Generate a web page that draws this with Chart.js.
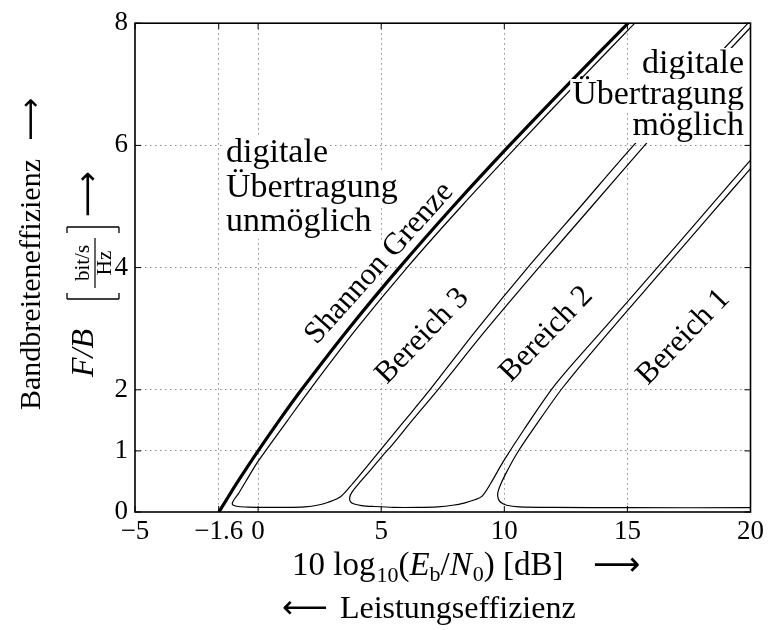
<!DOCTYPE html>
<html>
<head>
<meta charset="utf-8">
<script src="https://cdn.jsdelivr.net/npm/chart.js@4.4.1/dist/chart.umd.min.js"></script>
<style>
  html, body { margin: 0; padding: 0; background: #fff; }
  #wrap { width: 768px; height: 630px; }
</style>
</head>
<body>
<div id="wrap"><canvas id="grafik" width="768" height="630"></canvas></div>
<script>
// Achsen
const xTicks = [-5, -1.6, 0, 5, 10, 15, 20];
const yTicks = [0, 1, 2, 4, 6, 8];

// Shannon Grenze (dick)
const shannonX = [-1.59, -1.44, -1.21, -0.82, 0, 0.86, 1.76, 3.68, 5.74, 7.92, 10.21, 12.59, 15.03];
const shannonY = [0, 0.1, 0.25, 0.5, 1, 1.5, 2, 3, 4, 5, 6, 7, 8];

// Kurve 1: neben Shannon runter, unten entlang, wieder hoch
const kurve1X = [15.3, 12.9, 10.55, 8.25, 6.05, 4.0, 2.1, 1.2, 0.3, -0.05, -0.5, -0.8, -0.98, -1.05, -1.0, -0.8, -0.4, 0.3, 1.2, 1.9, 2.4, 2.85, 3.35, 3.85, 4.45, 5.1, 5.9, 6.9, 8.85, 10.95, 13.1, 15.25, 17.55, 19.9];
const kurve1Y = [8, 7, 6, 5, 4, 3, 2, 1.5, 1, 0.8, 0.5, 0.3, 0.2, 0.14, 0.11, 0.09, 0.08, 0.075, 0.075, 0.085, 0.11, 0.16, 0.25, 0.47, 0.76, 1.08, 1.47, 1.96, 2.97, 4.0, 5.0, 6.0, 7.0, 8.0];

// Kurve 2
const kurve2X = [20, 17.85, 15.7, 13.55, 11.4, 9.3, 7.3, 6.3, 5.45, 5.05, 4.6, 4.1, 3.82, 3.72, 3.75, 3.9, 4.2, 4.7, 5.5, 6.5, 7.3, 7.9, 8.4, 8.8, 9.1, 9.45, 9.95, 10.8, 12.1, 14.0, 16.0, 18.0, 20];
const kurve2Y = [7.93, 7, 6, 5, 4, 3, 2.0, 1.52, 1.1, 0.92, 0.7, 0.47, 0.33, 0.24, 0.17, 0.13, 0.105, 0.09, 0.075, 0.075, 0.085, 0.11, 0.15, 0.2, 0.26, 0.47, 0.82, 1.35, 2.1, 2.98, 3.9, 4.83, 5.76];

// Kurve 3
const kurve3X = [20, 18.3, 16.3, 14.3, 12.4, 11.25, 10.5, 10.05, 9.82, 9.73, 9.76, 9.88, 10.1, 10.6, 12, 15, 20];
const kurve3Y = [5.62, 4.83, 3.9, 2.97, 2.05, 1.4, 0.95, 0.62, 0.42, 0.3, 0.21, 0.15, 0.11, 0.085, 0.075, 0.07, 0.07];

const serif = "'Liberation Serif', 'DejaVu Sans', serif";

function punkte(xs, ys) {
  return xs.map((x, i) => ({ x: x, y: ys[i] }));
}

function textMitHintergrund(ctx, text, x, y, font, align) {
  ctx.font = font;
  const w = ctx.measureText(text).width;
  let x0 = x;
  if (align === 'right') x0 = x - w;
  if (align === 'center') x0 = x - w / 2;
  ctx.fillStyle = '#fff';
  ctx.fillRect(x0 - 2, y - 25, w + 4, 33);
  ctx.fillStyle = '#000';
  ctx.textAlign = 'left';
  ctx.textBaseline = 'alphabetic';
  ctx.fillText(text, x0, y);
}

function schraegText(ctx, text, cx, cy, winkel) {
  ctx.save();
  ctx.translate(cx, cy);
  ctx.rotate(-winkel * Math.PI / 180);
  ctx.font = '31px ' + serif;
  const w = ctx.measureText(text).width;
  ctx.fillStyle = '#fff';
  ctx.fillRect(-w / 2 - 2, -12, w + 4, 23);
  ctx.fillStyle = '#000';
  ctx.textAlign = 'center';
  ctx.textBaseline = 'alphabetic';
  ctx.fillText(text, 0, 10);
  ctx.restore();
}

// Textstuecke nacheinander (mit Indizes)
function stuecke(ctx, teile, x, y) {
  let px = x;
  teile.forEach(t => {
    ctx.font = t.f;
    ctx.fillText(t.s, px, y + (t.dy || 0));
    px += ctx.measureText(t.s).width + (t.gap || 0);
  });
  return px;
}

function linie(ctx, x1, y1, x2, y2) {
  ctx.beginPath();
  ctx.moveTo(x1, y1);
  ctx.lineTo(x2, y2);
  ctx.stroke();
}

const beschriftung = {
  id: 'beschriftung',
  afterDatasetsDraw(chart) {
    const ctx = chart.ctx;
    const a = chart.chartArea;
    const sx = chart.scales.x;
    const sy = chart.scales.y;
    ctx.save();

    // Rahmen + Ticks nach innen
    ctx.strokeStyle = '#000';
    ctx.lineWidth = 1.6;
    ctx.strokeRect(a.left, a.top, a.right - a.left, a.bottom - a.top);
    ctx.lineWidth = 1;
    xTicks.forEach(v => {
      const p = sx.getPixelForValue(v);
      linie(ctx, p, a.bottom, p, a.bottom - 6);
      linie(ctx, p, a.top, p, a.top + 6);
    });
    yTicks.forEach(v => {
      const p = sy.getPixelForValue(v);
      linie(ctx, a.left, p, a.left + 6, p);
      linie(ctx, a.right, p, a.right - 6, p);
    });

    // Bereiche
    const f34 = '34px ' + serif;
    ['digitale', 'Übertragung', 'unmöglich'].forEach((t, i) => {
      textMitHintergrund(ctx, t, 226, [162, 197, 231][i], f34, 'left');
    });
    ['digitale', 'Übertragung', 'möglich'].forEach((t, i) => {
      textMitHintergrund(ctx, t, 744, [73, 104, 135][i], f34, 'right');
    });

    schraegText(ctx, 'Shannon Grenze', 378, 262, 48);
    schraegText(ctx, 'Bereich 3', 421, 335, 46);
    schraegText(ctx, 'Bereich 2', 545, 333, 46);
    schraegText(ctx, 'Bereich 1', 682, 336, 46);

    // x-Achsentitel
    ctx.fillStyle = '#000';
    ctx.textAlign = 'left';
    ctx.textBaseline = 'alphabetic';
    const gross = '33px ' + serif;
    const klein = '22px ' + serif;
    const kursiv = 'italic 33px ' + serif;
    stuecke(ctx, [
      { s: '10 log', f: gross, gap: 1 },
      { s: '10', f: klein, dy: 7 },
      { s: '(', f: gross },
      { s: 'E', f: kursiv },
      { s: 'b', f: klein, dy: 6 },
      { s: '/', f: gross },
      { s: 'N', f: kursiv, gap: 1 },
      { s: '0', f: klein, dy: 6 },
      { s: ') [dB]', f: gross }
    ], 292, 575);
    ctx.font = gross;
    ctx.fillText('⟶', 593, 575);
    stuecke(ctx, [
      { s: '⟵ ', f: '32px ' + serif, gap: 4 },
      { s: 'Leistungseffizienz', f: '32px ' + serif }
    ], 282, 618);

    // y-Achsentitel
    ctx.save();
    ctx.translate(40, 410);
    ctx.rotate(-Math.PI / 2);
    stuecke(ctx, [
      { s: 'Bandbreiteneffizienz', f: '30px ' + serif, gap: 18 },
      { s: '⟶', f: '30px ' + serif }
    ], 0, 0);
    ctx.restore();

    ctx.save();
    ctx.translate(93, 377);
    ctx.rotate(-Math.PI / 2);
    ctx.font = 'italic 32px ' + serif;
    ctx.fillText('F/B', 0, 0);
    // Klammer mit Bruch
    ctx.lineWidth = 1.3;
    const u1 = 78, u2 = 150;
    linie(ctx, u1, -26, u1, 26);
    linie(ctx, u1, -26, u1 + 6, -26);
    linie(ctx, u1, 26, u1 + 6, 26);
    linie(ctx, u2, -26, u2, 26);
    linie(ctx, u2, -26, u2 - 6, -26);
    linie(ctx, u2, 26, u2 - 6, 26);
    ctx.font = '21px ' + serif;
    ctx.textAlign = 'center';
    ctx.fillText('bit/s', (u1 + u2) / 2, -4);
    ctx.fillText('Hz', (u1 + u2) / 2, 18);
    ctx.lineWidth = 1.2;
    linie(ctx, u1 + 11, 2, u2 - 11, 2);
    ctx.textAlign = 'left';
    ctx.font = '32px ' + serif;
    ctx.fillText('⟶', 160, 5);
    ctx.restore();

    ctx.restore();
  }
};

const dunn = { borderColor: '#000', borderWidth: 1.2, pointRadius: 0, showLine: true, tension: 0.3, fill: false };

new Chart(document.getElementById('grafik'), {
  type: 'scatter',
  data: {
    datasets: [
      { data: punkte(shannonX, shannonY), borderColor: '#000', borderWidth: 3.2, pointRadius: 0, showLine: true, tension: 0.3 },
      Object.assign({ data: punkte(kurve1X, kurve1Y) }, dunn),
      Object.assign({ data: punkte(kurve2X, kurve2Y) }, dunn),
      Object.assign({ data: punkte(kurve3X, kurve3Y) }, dunn)
    ]
  },
  options: {
    responsive: false,
    devicePixelRatio: 1,
    animation: false,
    layout: { padding: { top: 19, right: 15, left: 0, bottom: 0 } },
    plugins: { legend: { display: false }, tooltip: { enabled: false } },
    scales: {
      x: {
        type: 'linear', min: -5, max: 20,
        afterBuildTicks: s => { s.ticks = xTicks.map(v => ({ value: v })); },
        afterFit: s => { s.height = 118; },
        ticks: {
          autoSkip: false, maxRotation: 0, padding: 4, color: '#000',
          font: { family: serif, size: 27 },
          callback: v => String(v).replace('-', '−')
        },
        grid: {
          drawTicks: false, lineWidth: 1,
          color: c => (c.tick && (c.tick.value === -5 || c.tick.value === 20)) ? 'rgba(0,0,0,0)' : '#8a8a8a'
        },
        border: { display: false, dash: [1.5, 3.5] }
      },
      y: {
        type: 'linear', min: 0, max: 8,
        afterBuildTicks: s => { s.ticks = yTicks.map(v => ({ value: v })); },
        afterFit: s => { s.width = 135; },
        ticks: {
          autoSkip: false, padding: 7, color: '#000',
          font: { family: serif, size: 27 }
        },
        grid: {
          drawTicks: false, lineWidth: 1,
          color: c => (c.tick && (c.tick.value === 0 || c.tick.value === 8)) ? 'rgba(0,0,0,0)' : '#8a8a8a'
        },
        border: { display: false, dash: [1.5, 3.5] }
      }
    }
  },
  plugins: [beschriftung]
});
</script>
</body>
</html>
